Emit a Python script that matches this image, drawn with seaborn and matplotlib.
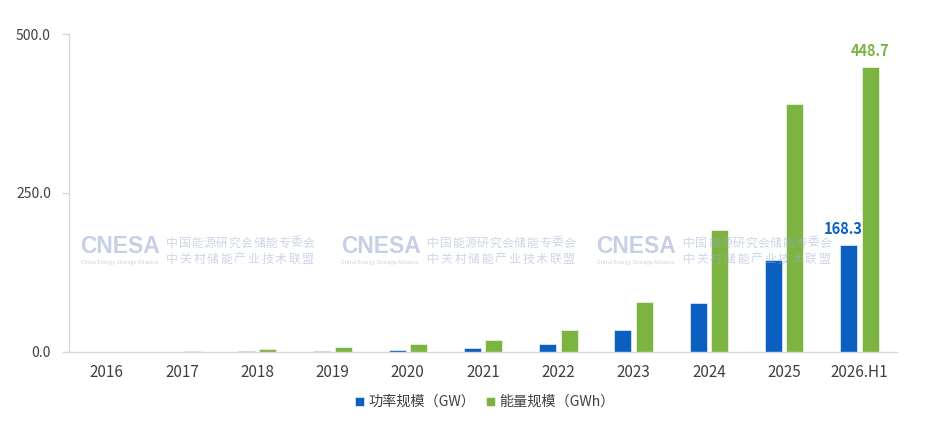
import numpy as np
import pandas as pd
import matplotlib
matplotlib.use("Agg")
import matplotlib.pyplot as plt
import seaborn as sns

# ---- data ----
years = ["2016", "2017", "2018", "2019", "2020", "2021", "2022", "2023", "2024", "2025", "2026.H1"]
power_gw = [0.2, 0.4, 1.1, 1.7, 3.3, 5.7, 13.1, 34.0, 77.5, 145.0, 168.3]
energy_gwh = [0.4, 1.5, 5.0, 8.2, 13.0, 18.0, 34.0, 78.5, 192.0, 390.0, 448.7]
series_names = ["功率规模（GW）", "能量规模（GWh）"]
y_ticks = [0, 250, 500]

sns.set_theme(style="white")
plt.rcParams["font.family"] = ["Noto Sans CJK SC", "DejaVu Sans"]

df = pd.DataFrame({
    "year": years * 2,
    "value": power_gw + energy_gwh,
    "series": [series_names[0]] * len(years) + [series_names[1]] * len(years),
})

blue = "#0b5fc1"
green = "#7cb442"

fig = plt.figure(figsize=(9.4, 4.25), dpi=100)
ax = fig.add_axes([0.0734, 0.172, 0.881, 0.748])

sns.barplot(data=df, x="year", y="value", hue="series", order=years,
            hue_order=series_names, palette=[blue, green], saturation=1,
            width=0.57, gap=0.21, edgecolor="white", linewidth=0.4,
            legend=True, ax=ax)

ax.set_xlim(-0.5, len(years) - 0.5)
ax.set_ylim(0, 500)
ax.set_yticks(y_ticks)
ax.set_yticklabels([f"{v:.1f}" for v in y_ticks])
ax.set_xlabel("")
ax.set_ylabel("")

for s in ["top", "right"]:
    ax.spines[s].set_visible(False)
for s in ["left", "bottom"]:
    ax.spines[s].set_color("#d9d9d9")
    ax.spines[s].set_linewidth(1.0)
ax.tick_params(axis="y", which="both", left=True, length=5, width=1,
               color="#d9d9d9", labelsize=10, labelcolor="#404040", pad=8)
ax.tick_params(axis="x", bottom=False, labelsize=11, labelcolor="#404040", pad=3)

# data labels on last category
for cont, vals, c, dx in zip(ax.containers, [power_gw, energy_gwh], [blue, green], [-6, 0]):
    p = cont.patches[-1]
    ax.annotate(f"{vals[-1]:.1f}", xy=(p.get_x() + p.get_width() / 2, p.get_height()),
                xytext=(dx, 8), textcoords="offset pixels", ha="center", va="bottom",
                color=c, fontsize=10.5, fontweight="bold")

# watermarks (semi-transparent, drawn over the bars)
wm_col = "#8fa3cc"
wm_cn = "#9dacd0"
wm_alpha = 0.5
line1 = "中国能源研究会储能专委会"
line2 = "中关村储能产业技术联盟"
for x0 in [0.013, 0.328, 0.637]:
    ax.text(x0, 0.331, "CNESA", transform=ax.transAxes, fontsize=16.5,
            fontweight="bold", color=wm_col, alpha=wm_alpha, family=["Liberation Sans"],
            va="center", ha="left", zorder=5)
    ax.text(x0 + 0.001, 0.281, "China Energy Storage Alliance", transform=ax.transAxes,
            fontsize=4.0, color=wm_col, alpha=wm_alpha, va="center", ha="left", zorder=5)
    step1 = 0.180 / len(line1)
    for i, ch in enumerate(line1):
        ax.text(x0 + 0.1045 + i * step1, 0.342, ch, transform=ax.transAxes,
                fontsize=8.6, color=wm_cn, alpha=wm_alpha, va="center", ha="left",
                zorder=5, fontweight="medium")
    step2 = 0.180 / len(line2)
    for i, ch in enumerate(line2):
        ax.text(x0 + 0.1045 + i * step2, 0.292, ch, transform=ax.transAxes,
                fontsize=8.6, color=wm_cn, alpha=wm_alpha, va="center", ha="left",
                zorder=5, fontweight="medium")

# legend
handles, labels = ax.get_legend_handles_labels()
ax.legend_.remove()
fig.legend(handles, labels, loc="center", bbox_to_anchor=(0.516, 0.054), ncol=2,
           frameon=False, fontsize=10.2, handlelength=0.6, handleheight=0.6,
           handletextpad=0.3, columnspacing=0.8, labelcolor="#404040")

fig.savefig("out.png", dpi=100, facecolor="white")
